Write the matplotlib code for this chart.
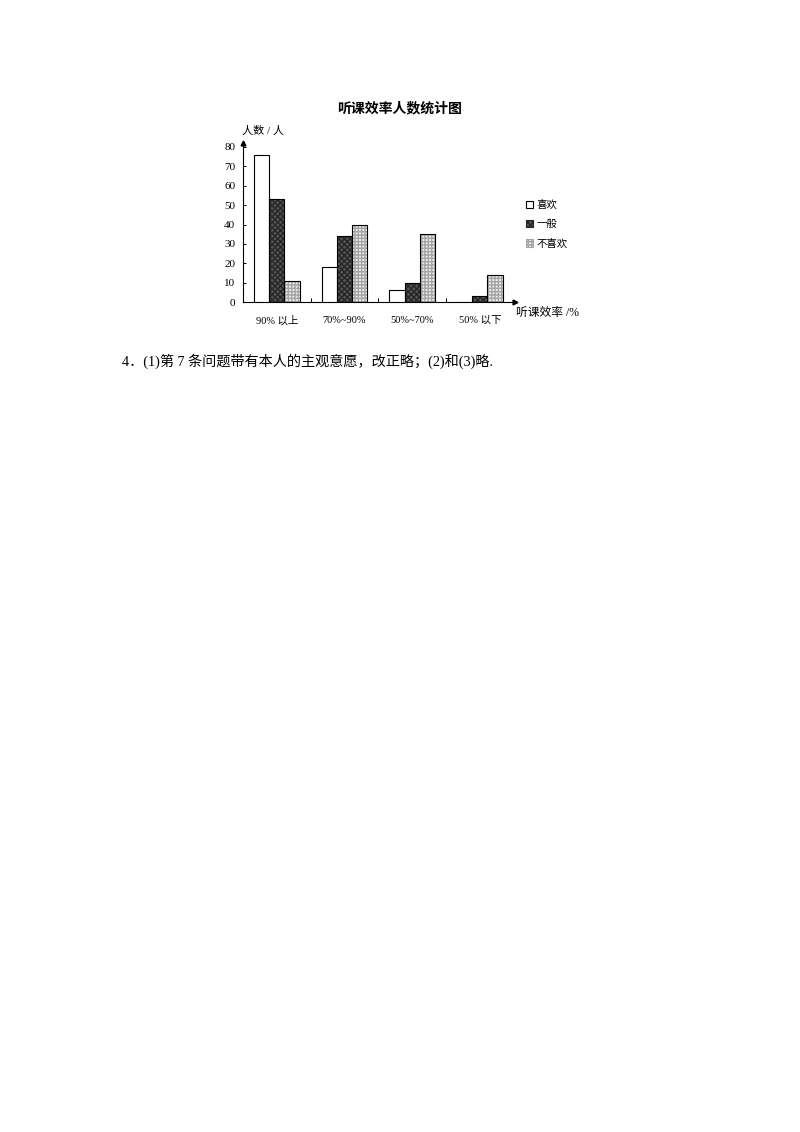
import matplotlib
matplotlib.use("Agg")
import matplotlib.pyplot as plt
from matplotlib.patches import Patch
import numpy as np

categories = ["90% 以上", "70%~90%", "50%~70%", "50% 以下"]
series_names = ["喜欢", "一般", "不喜欢"]
like = [76, 18, 6, 0]
normal = [53, 34, 10, 3]
dislike = [11, 40, 35, 14]
yticks = [0, 10, 20, 30, 40, 50, 60, 70, 80]

CJK = ["Liberation Serif", "Noto Sans CJK SC", "DejaVu Sans"]
plt.rcParams["font.family"] = CJK

W, H = 800, 1132
fig = plt.figure(figsize=(W / 100, H / 100), dpi=100)


def fx(x):
    return x / W


def fy(y):
    return 1 - y / H


ax_left, ax_right, ax_bottom = 243, 515, 302
unit = 155 / 80.0
ymax = 82
ax = fig.add_axes([fx(ax_left), fy(ax_bottom), (ax_right - ax_left) / W, ymax * unit / H])

x = np.arange(len(categories))
bw = 0.226
styles = [
    dict(face="white", hatch=None, hcol="black"),
    dict(face="#555555", hatch="xxxxxx", hcol="#262626"),
    dict(face="#ebebeb", hatch="+++++", hcol="#a5a5a5"),
]
data = [like, normal, dislike]
for i, (vals, st) in enumerate(zip(data, styles)):
    pos = x + (i - 1) * bw
    if st["hatch"]:
        ax.bar(pos, vals, bw, color=st["face"], hatch=st["hatch"], edgecolor=st["hcol"],
               linewidth=0, zorder=2)
        ax.bar(pos, vals, bw, fill=False, edgecolor="black", linewidth=0.8, zorder=3)
    else:
        ax.bar(pos, vals, bw, color=st["face"], edgecolor="black", linewidth=0.8, zorder=3)

ax.set_xlim(-0.5, 3.52)
ax.set_ylim(0, ymax)
for s in ["top", "right"]:
    ax.spines[s].set_visible(False)
ax.spines["left"].set_linewidth(0.8)
ax.spines["bottom"].set_linewidth(0.8)
ax.set_yticks(yticks)
ax.set_yticklabels([str(v) for v in yticks], fontsize=8)
ax.tick_params(axis="y", direction="in", length=2.5, width=0.7, pad=5.5)
ax.set_xticks(x)
ax.set_xticklabels(categories, fontsize=7.5)
ax.tick_params(axis="x", which="major", length=0, pad=10)
ax.set_xticks([0.5, 1.5, 2.5], minor=True)
ax.tick_params(axis="x", which="minor", direction="in", length=3, width=0.7)
ax.patch.set_alpha(0)

# arrows
ax.plot(0, 1, marker="^", color="black", markersize=3.5, transform=ax.transAxes, clip_on=False)
ax.plot(1, 0, marker=">", color="black", markersize=3.5, transform=ax.transAxes, clip_on=False)

# title and labels
fig.text(fx(400), fy(109), "听课效率人数统计图", ha="center", va="center", fontsize=10,
         fontweight="bold", family=CJK)
fig.text(fx(242), fy(131), "人数 / 人", ha="left", va="center", fontsize=8, family=CJK)
fig.text(fx(516), fy(313), "听课效率 /%", ha="left", va="center", fontsize=8.5, family=CJK)

# legend
handles = [
    Patch(facecolor="white", edgecolor="black", linewidth=0.8),
    Patch(facecolor="#555555", edgecolor="#262626", hatch="xxxxxx", linewidth=0.8),
    Patch(facecolor="#ebebeb", edgecolor="#a5a5a5", hatch="+++++", linewidth=0.8),
]
fig.legend(handles, series_names, loc="upper left", bbox_to_anchor=(fx(526), fy(200)),
           frameon=False, fontsize=7.5, handlelength=0.7, handleheight=0.7,
           handletextpad=0.3, labelspacing=0.9, borderaxespad=0, borderpad=0)

# bottom note
fig.text(fx(122), fy(361), "4．(1)第 7 条问题带有本人的主观意愿，改正略；(2)和(3)略.",
         ha="left", va="center", fontsize=10.2, family=CJK)

fig.savefig("out.png", dpi=100, facecolor="white")
